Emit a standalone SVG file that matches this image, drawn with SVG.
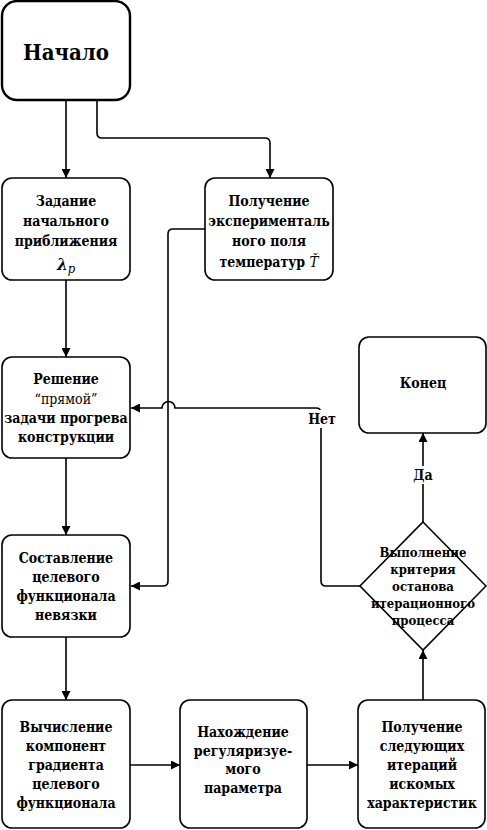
<svg xmlns="http://www.w3.org/2000/svg" width="487" height="830" viewBox="0 0 487 830">
<defs>
<marker id="arr" viewBox="0 0 10 10" refX="10" refY="5" markerWidth="9" markerHeight="9" markerUnits="userSpaceOnUse" orient="auto">
<path d="M0,0 L10,5 L0,10 Z" fill="#000"/>
</marker>
<style>
.box{fill:#fff;stroke:#000;stroke-width:1.6}
.start{fill:#fff;stroke:#000;stroke-width:2.4}
text{font-family:'DejaVu Serif Condensed','DejaVu Serif',serif;font-stretch:condensed}
.t{font-weight:bold;font-size:14px;text-anchor:middle;fill:#000}
.d{font-size:13px}
.c{fill:none;stroke:#000;stroke-width:1.6}
</style>
</defs>
<rect width="487" height="830" fill="#fff"/>
<g id="connectors">
<path class="c" d="M66,100 V178" marker-end="url(#arr)"/>
<path class="c" d="M97,100 V133 Q97,138 102,138 H265 Q270,138 270,143 V178" marker-end="url(#arr)"/>
<path class="c" d="M205,229 H173 Q168,229 168,234 V581 Q168,586 163,586 H131" marker-end="url(#arr)"/>
<path class="c" d="M66,280 V357" marker-end="url(#arr)"/>
<path class="c" d="M66,458 V535" marker-end="url(#arr)"/>
<path class="c" d="M66,637 V700" marker-end="url(#arr)"/>
<path class="c" d="M130,765 H180" marker-end="url(#arr)"/>
<path class="c" d="M307,765 H358" marker-end="url(#arr)"/>
<path class="c" d="M423,700 V650" marker-end="url(#arr)"/>
<path class="c" d="M423,522 V433" marker-end="url(#arr)"/>
<path class="c" d="M360,586 H326 Q321,586 321,581 V413 Q321,408 316,408 H175 A6,6 0 0 0 162,408 H131" marker-end="url(#arr)"/>
<rect x="306" y="410" width="31" height="18" fill="#fff"/>
<text class="t" x="322" y="424">Нет</text>
<rect x="412" y="466" width="22" height="18" fill="#fff"/>
<text class="t" x="423" y="480">Да</text>
</g>
<g id="start">
<rect class="start" x="2" y="1" width="128" height="99" rx="15"/>
<text class="t" x="66" y="60" style="font-size:22px">Начало</text>
</g>
<g id="initial">
<rect class="box" x="2" y="178" width="128" height="102" rx="10"/>
<text class="t" x="66" y="206">Задание</text>
<text class="t" x="66" y="226">начального</text>
<text class="t" x="66" y="246">приближения</text>
<text class="t" x="66" y="270" style="font-size:17px"><tspan font-style="italic">λ</tspan><tspan font-style="italic" font-weight="normal" font-size="13" dy="3">p</tspan></text>
</g>
<g id="experiment">
<rect class="box" x="205" y="178" width="128" height="102" rx="10"/>
<text class="t" x="269" y="206">Получение</text>
<text class="t" x="269" y="226">эксперименталь</text>
<text class="t" x="269" y="246">ного поля</text>
<text class="t" x="269" y="267">температур <tspan font-style="italic" font-weight="normal" font-size="15">Ť</tspan></text>
</g>
<g id="direct">
<rect class="box" x="2" y="357" width="128" height="101" rx="10"/>
<text class="t" x="66" y="384">Решение</text>
<text class="t" x="66" y="404" style="font-weight:normal">“прямой”</text>
<text class="t" x="66" y="423">задачи прогрева</text>
<text class="t" x="66" y="442">конструкции</text>
</g>
<g id="functional">
<rect class="box" x="2" y="535" width="128" height="102" rx="10"/>
<text class="t" x="66" y="563">Составление</text>
<text class="t" x="66" y="582">целевого</text>
<text class="t" x="66" y="601">функционала</text>
<text class="t" x="66" y="620">невязки</text>
</g>
<g id="end">
<rect class="box" x="359" y="337" width="127" height="96" rx="10"/>
<text class="t" x="423" y="388">Конец</text>
</g>
<g id="criterion">
<polygon class="box" points="423,522 486,586 423,650 360,586"/>
<text class="t d" x="423" y="557">Выполнение</text>
<text class="t d" x="423" y="574">критерия</text>
<text class="t d" x="423" y="591">останова</text>
<text class="t d" x="423" y="608">итерационного</text>
<text class="t d" x="423" y="625">процесса</text>
</g>
<g id="gradient">
<rect class="box" x="2" y="700" width="128" height="128" rx="10"/>
<text class="t" x="66" y="732">Вычисление</text>
<text class="t" x="66" y="751">компонент</text>
<text class="t" x="66" y="770">градиента</text>
<text class="t" x="66" y="789">целевого</text>
<text class="t" x="66" y="808">функционала</text>
</g>
<g id="regparam">
<rect class="box" x="180" y="700" width="127" height="128" rx="10"/>
<text class="t" x="243" y="737">Нахождение</text>
<text class="t" x="243" y="756">регуляризуе-</text>
<text class="t" x="243" y="774">мого</text>
<text class="t" x="243" y="793">параметра</text>
</g>
<g id="next">
<rect class="box" x="358" y="700" width="127" height="128" rx="10"/>
<text class="t" x="422" y="732">Получение</text>
<text class="t" x="422" y="751">следующих</text>
<text class="t" x="422" y="770">итераций</text>
<text class="t" x="422" y="789">искомых</text>
<text class="t" x="422" y="808">характеристик</text>
</g>
</svg>
